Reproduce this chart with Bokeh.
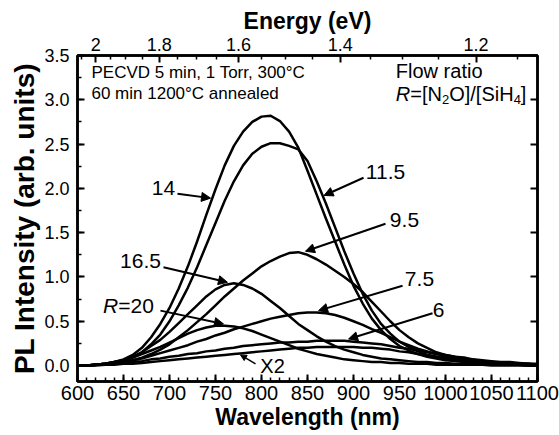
from bokeh.plotting import figure
from bokeh.models import LinearAxis, FixedTicker, Range1d, Arrow, NormalHead, ColumnDataSource
from bokeh.core.properties import value
from bokeh.embed import file_html
from bokeh.resources import INLINE

# ---------------- data ----------------
wavelength = [600, 610, 620, 630, 640, 650, 660, 670, 680, 690, 700, 710, 720, 730, 740,
              750, 760, 770, 780, 790, 800, 810, 820, 830, 840, 850, 860, 870, 880, 890,
              900, 910, 920, 930, 940, 950, 960, 970, 980, 990, 1000, 1010, 1020, 1030,
              1040, 1050, 1060, 1070, 1080, 1090, 1100]

r14 = [0.00, 0.00, 0.01, 0.02, 0.04, 0.07, 0.12, 0.20, 0.32, 0.47, 0.65, 0.87, 1.12, 1.40,
       1.70, 1.99, 2.26, 2.48, 2.64, 2.75, 2.81, 2.82, 2.76, 2.64, 2.46, 2.20, 1.93, 1.66,
       1.40, 1.14, 0.90, 0.70, 0.53, 0.40, 0.30, 0.22, 0.17, 0.13, 0.10, 0.08, 0.06, 0.05,
       0.04, 0.03, 0.02, 0.02, 0.01, 0.01, 0.01, 0.00, 0.00]
r11_5 = [0.00, 0.00, 0.01, 0.02, 0.03, 0.05, 0.09, 0.15, 0.24, 0.35, 0.50, 0.68, 0.88, 1.11,
         1.36, 1.61, 1.86, 2.08, 2.26, 2.39, 2.47, 2.51, 2.51, 2.48, 2.44, 2.31, 2.08, 1.83,
         1.56, 1.29, 1.04, 0.81, 0.62, 0.47, 0.36, 0.27, 0.21, 0.16, 0.12, 0.10, 0.08, 0.06,
         0.05, 0.04, 0.03, 0.02, 0.02, 0.01, 0.01, 0.01, 0.01]
r9_5 = [0.00, 0.00, 0.01, 0.01, 0.02, 0.04, 0.06, 0.09, 0.13, 0.18, 0.24, 0.32, 0.40, 0.49,
        0.58, 0.68, 0.78, 0.87, 0.96, 1.04, 1.12, 1.18, 1.23, 1.27, 1.28, 1.25, 1.20, 1.14,
        1.07, 1.00, 0.92, 0.83, 0.72, 0.61, 0.50, 0.40, 0.32, 0.25, 0.20, 0.15, 0.12, 0.10,
        0.08, 0.06, 0.05, 0.04, 0.03, 0.03, 0.02, 0.02, 0.01]
r16_5 = [0.00, 0.00, 0.01, 0.02, 0.04, 0.06, 0.10, 0.15, 0.22, 0.29, 0.38, 0.48, 0.58, 0.68,
         0.78, 0.86, 0.91, 0.93, 0.91, 0.87, 0.81, 0.73, 0.65, 0.56, 0.47, 0.40, 0.33, 0.27,
         0.22, 0.18, 0.15, 0.12, 0.10, 0.08, 0.07, 0.06, 0.05, 0.04, 0.04, 0.03, 0.03, 0.02,
         0.02, 0.02, 0.02, 0.01, 0.01, 0.01, 0.01, 0.00, 0.00]
r20 = [0.00, 0.00, 0.01, 0.02, 0.04, 0.06, 0.09, 0.13, 0.17, 0.21, 0.26, 0.31, 0.36, 0.40,
       0.43, 0.45, 0.45, 0.44, 0.42, 0.39, 0.35, 0.31, 0.27, 0.23, 0.19, 0.16, 0.13, 0.11,
       0.09, 0.07, 0.06, 0.05, 0.04, 0.04, 0.03, 0.03, 0.02, 0.02, 0.02, 0.01, 0.01, 0.01,
       0.01, 0.01, 0.01, 0.00, 0.00, 0.00, 0.00, 0.00, 0.00]
r7_5 = [0.00, 0.00, 0.01, 0.02, 0.03, 0.04, 0.06, 0.08, 0.11, 0.14, 0.17, 0.20, 0.23, 0.27,
        0.30, 0.34, 0.37, 0.41, 0.44, 0.47, 0.50, 0.53, 0.55, 0.57, 0.59, 0.60, 0.60, 0.59,
        0.57, 0.54, 0.50, 0.46, 0.41, 0.37, 0.32, 0.27, 0.23, 0.19, 0.16, 0.13, 0.11, 0.09,
        0.07, 0.06, 0.05, 0.04, 0.03, 0.03, 0.02, 0.02, 0.01]
r6 = [0.00, 0.00, 0.01, 0.01, 0.02, 0.03, 0.04, 0.05, 0.07, 0.08, 0.10, 0.11, 0.13, 0.14,
      0.16, 0.17, 0.19, 0.20, 0.22, 0.23, 0.24, 0.25, 0.26, 0.26, 0.27, 0.27, 0.28, 0.28,
      0.28, 0.28, 0.27, 0.26, 0.25, 0.24, 0.22, 0.20, 0.19, 0.17, 0.15, 0.13, 0.12, 0.10,
      0.09, 0.07, 0.06, 0.05, 0.04, 0.04, 0.03, 0.02, 0.02]
x2 = [0.00, 0.00, 0.00, 0.01, 0.01, 0.02, 0.02, 0.03, 0.04, 0.05, 0.06, 0.07, 0.08, 0.09,
      0.10, 0.11, 0.12, 0.13, 0.14, 0.15, 0.16, 0.17, 0.18, 0.19, 0.20, 0.20, 0.21, 0.21,
      0.21, 0.21, 0.21, 0.20, 0.20, 0.19, 0.18, 0.16, 0.15, 0.13, 0.12, 0.10, 0.09, 0.07,
      0.06, 0.05, 0.04, 0.04, 0.03, 0.02, 0.02, 0.01, 0.01]

x_ticks = [600, 650, 700, 750, 800, 850, 900, 950, 1000, 1050, 1100]
y_ticks = [0.0, 0.5, 1.0, 1.5, 2.0, 2.5, 3.0, 3.5]
y_labels = ["0.0", "0.5", "1.0", "1.5", "2.0", "2.5", "3.0", "3.5"]
energy_ticks = [2.0, 1.8, 1.6, 1.4, 1.2]
energy_labels = ["2", "1.8", "1.6", "1.4", "1.2"]
energy_minor = [2.05, 1.95, 1.9, 1.85, 1.75, 1.7, 1.65, 1.55, 1.5, 1.45, 1.35, 1.3, 1.25, 1.15]
HC = 1239.84

curve_labels = ["14", "11.5", "9.5", "16.5", "7.5", "6"]
FONT = "Liberation Sans"

# ---------------- figure ----------------
p = figure(width=559, height=435, x_range=Range1d(600, 1100), y_range=Range1d(-0.18, 3.5),
           output_backend="svg", toolbar_location=None,
           min_border_left=77, min_border_right=22, min_border_top=55, min_border_bottom=54)
p.xgrid.grid_line_color = None
p.ygrid.grid_line_color = None
p.outline_line_color = "black"
p.outline_line_width = 2.5
p.background_fill_color = "white"
p.border_fill_color = "white"


def style(ax, label_size="18px", title_size="23px"):
    ax.axis_line_width = 2.5
    ax.axis_line_color = "black"
    ax.major_tick_in = 7
    ax.major_tick_out = 0
    ax.minor_tick_in = 4
    ax.minor_tick_out = 0
    ax.major_tick_line_width = 2
    ax.minor_tick_line_width = 1.5
    ax.major_tick_line_color = "black"
    ax.minor_tick_line_color = "black"
    ax.major_label_text_font = FONT
    ax.major_label_text_font_size = label_size
    ax.major_label_text_color = "black"
    ax.axis_label_text_font = FONT
    ax.axis_label_text_font_style = "bold"
    ax.axis_label_text_font_size = title_size
    ax.axis_label_text_color = "black"
    ax.major_label_standoff = 5
    ax.axis_label_standoff = 1


xminor = list(range(600, 1101, 10))
bottom = p.xaxis[0]
bottom.ticker = FixedTicker(ticks=x_ticks, minor_ticks=xminor)
bottom.axis_label = "Wavelength (nm)"
style(bottom, label_size="20px")
bottom.major_label_standoff = 4

yminor = [i * 0.25 for i in range(0, 15)]
left = p.yaxis[0]
left.ticker = FixedTicker(ticks=y_ticks, minor_ticks=yminor)
left.major_label_overrides = {t: l for t, l in zip(y_ticks, y_labels)}
left.axis_label = "PL Intensity (arb. units)"
style(left, title_size="28px")
left.major_label_standoff = 8

top_pos = [HC / e for e in energy_ticks]
top = LinearAxis(ticker=FixedTicker(ticks=top_pos, minor_ticks=[HC / e for e in energy_minor]),
                 major_label_overrides={t: l for t, l in zip(top_pos, energy_labels)},
                 axis_label="Energy (eV)")
style(top)
p.add_layout(top, "above")

# right axis: ticks only (as minor ticks, so no labels are drawn)
right = LinearAxis(ticker=FixedTicker(ticks=[], minor_ticks=y_ticks))
style(right)
right.minor_tick_in = 7
right.minor_tick_line_width = 2
p.add_layout(right, "right")

# ---------------- curves ----------------
for ys in [x2, r6, r7_5, r20, r16_5, r9_5, r11_5, r14]:
    p.line(wavelength, ys, line_color="black", line_width=2.5, line_join="round")

# ---------------- annotations ----------------
lab_x = [693.5, 934.8, 955.4, 668.5, 971.7, 992.4]
lab_y = [2.00, 2.19, 1.64, 1.18, 0.98, 0.63]
p.text(x=lab_x, y=lab_y, text=curve_labels, text_font=value(FONT),
       text_font_size=value("21px"), text_align="center", text_baseline="middle",
       text_color="black")

arr = ColumnDataSource(dict(
    xs=[708.7, 910.9, 934.8, 693.5, 953.3, 985.9, 690.2],
    ys=[1.94, 2.12, 1.60, 1.11, 0.90, 0.59, 0.62],
    xe=[744.6, 868.0, 847.8, 763.0, 862.0, 894.6, 758.7],
    ye=[1.89, 1.92, 1.29, 0.94, 0.62, 0.30, 0.47]))
p.add_layout(Arrow(end=NormalHead(size=9, fill_color="black", line_color="black", line_width=1),
                   x_start="xs", y_start="ys", x_end="xe", y_end="ye", source=arr,
                   line_color="black", line_width=2))
p.add_layout(Arrow(end=NormalHead(size=6, fill_color="black", line_color="black", line_width=1),
                   x_start=793.5, y_start=0.02, x_end=777.2, y_end=0.12,
                   line_color="black", line_width=1.5))
p.text(x=[812.0], y=[0.0], text=["X2"], text_font=value(FONT), text_font_size=value("20px"),
       text_align="center", text_baseline="middle", text_color="black")

# R=20 (italic R)
p.text(x=[627.8], y=[0.68], text=["R"], text_font=value(FONT), text_font_size=value("21px"),
       text_font_style="italic", text_align="left", text_baseline="middle")
p.text(x=[627.8], y=[0.68], text=["=20"], text_font=value(FONT), text_font_size=value("21px"),
       text_align="left", text_baseline="middle", x_offset=15.2)

# header texts
p.text(x=[615.2, 615.2], y=[3.31, 3.07],
       text=["PECVD 5 min, 1 Torr, 300°C", "60 min 1200°C annealed"],
       text_font=value(FONT), text_font_size=value("17px"), text_align="left",
       text_baseline="middle")
p.text(x=[946.0], y=[3.32], text=["Flow ratio"], text_font=value(FONT),
       text_font_size=value("20px"), text_align="left", text_baseline="middle")

# R=[N2O]/[SiH4] built from pieces
W = {"R": .722, "=": .584, "[": .278, "]": .278, "N": .722, "O": .778, "/": .278,
     "S": .667, "i": .222, "H": .722, "2": .556, "4": .556}
pieces = [("R", 20, "italic", 0), ("=[N", 20, "normal", 0), ("2", 13, "normal", 6),
          ("O]/[SiH", 20, "normal", 0), ("4", 13, "normal", 6), ("]", 20, "normal", 0)]
off = 0.0
for txt, size, style_, dy in pieces:
    p.text(x=[946.0], y=[3.07], text=[txt], text_font=value(FONT),
           text_font_size=value(f"{size}px"), text_font_style=style_,
           text_align="left", text_baseline="middle", x_offset=off, y_offset=dy)
    off += sum(W[c] for c in txt) * size

open("out.html", "w").write(file_html(p, INLINE))
